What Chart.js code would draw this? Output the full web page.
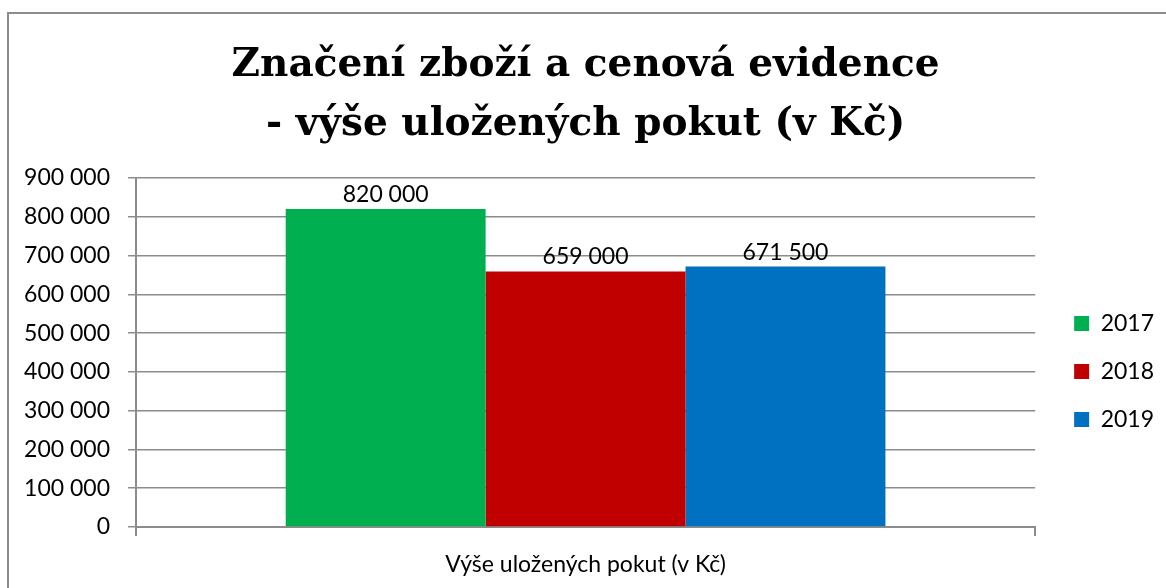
<!DOCTYPE html>
<html>
<head>
<meta charset="utf-8">
<script src="https://cdn.jsdelivr.net/npm/chart.js@4/dist/chart.umd.min.js"></script>
<style>
  html, body { margin: 0; padding: 0; background: #fff; }
</style>
</head>
<body>
<canvas id="myChart" width="1166" height="588"></canvas>
<script>
// DATA
const categories = ['Výše uložených pokut (v Kč)'];
const years = ['2017', '2018', '2019'];
const fines2017 = [820000];
const fines2018 = [659000];
const fines2019 = [671500];
const yTicks = [0, 100000, 200000, 300000, 400000, 500000, 600000, 700000, 800000, 900000];
const colors = ['#00B050', '#C00000', '#0070C0'];
const titleLines = ['Značení zboží a cenová evidence', '- výše uložených pokut (v Kč)'];

// 820000 -> "820 000"
function fmt(v) {
    return String(v).replace(/\B(?=(\d{3})+(?!\d))/g, ' ');
}

// frame round the chart (only top and left show in the picture)
const framePlugin = {
    id: 'frame',
    beforeDraw(chart) {
        const ctx = chart.ctx;
        ctx.save();
        ctx.strokeStyle = '#8c8c8c';
        ctx.lineWidth = 2;
        ctx.beginPath();
        ctx.moveTo(8, chart.height);
        ctx.lineTo(8, 13);
        ctx.lineTo(chart.width, 13);
        ctx.stroke();
        ctx.restore();
    }
};

// value labels above the bars
const valueLabels = {
    id: 'valueLabels',
    afterDatasetsDraw(chart) {
        const ctx = chart.ctx;
        ctx.save();
        ctx.font = "23px Lato, 'Open Sans', sans-serif";
        ctx.fillStyle = '#000';
        ctx.textAlign = 'center';
        ctx.textBaseline = 'alphabetic';
        chart.data.datasets.forEach((ds, i) => {
            chart.getDatasetMeta(i).data.forEach((bar, j) => {
                ctx.fillText(fmt(ds.data[j]), bar.x, bar.y - 7);
            });
        });
        ctx.restore();
    }
};

Chart.defaults.font.family = "Lato, 'Open Sans', sans-serif";
Chart.defaults.font.size = 23;
Chart.defaults.color = '#000';

const ctx = document.getElementById('myChart').getContext('2d');
const myChart = new Chart(ctx, {
    type: 'bar',
    data: {
        labels: categories,
        datasets: [
            { label: years[0], data: fines2017, backgroundColor: colors[0] },
            { label: years[1], data: fines2018, backgroundColor: colors[1] },
            { label: years[2], data: fines2019, backgroundColor: colors[2] }
        ]
    },
    options: {
        responsive: false,
        animation: false,
        categoryPercentage: 0.667,
        barPercentage: 1,
        layout: {
            padding: { left: 10, right: 2, top: 0, bottom: 10 }
        },
        plugins: {
            title: {
                display: true,
                fullSize: false,
                text: titleLines,
                color: '#000',
                font: { family: "'DejaVu Serif', serif", size: 39, weight: 'bold', lineHeight: 1.5 },
                padding: { top: 37, bottom: 24 }
            },
            legend: {
                position: 'right',
                fullSize: false,
                title: { display: true, text: '', font: { size: 10 }, padding: 13 },
                labels: {
                    boxWidth: 15,
                    boxHeight: 15,
                    padding: 25,
                    font: { size: 23 }
                }
            },
            tooltip: { enabled: false }
        },
        scales: {
            x: {
                afterFit(scale) {
                    scale.height = 51;
                },
                grid: {
                    drawOnChartArea: false,
                    drawTicks: true,
                    tickLength: 9,
                    color: '#8c8c8c',
                    lineWidth: 2
                },
                border: { color: '#8c8c8c', width: 2 },
                ticks: { padding: 15 }
            },
            y: {
                min: 0,
                max: 900000,
                afterBuildTicks(scale) {
                    scale.ticks = yTicks.map(v => ({ value: v }));
                },
                afterFit(scale) {
                    scale.width = 126;
                },
                grid: {
                    color: '#8c8c8c',
                    lineWidth: 1.5,
                    tickLength: 8
                },
                border: { color: '#8c8c8c', width: 2 },
                ticks: {
                    padding: 18,
                    callback: v => fmt(v)
                }
            },
            spacer: {
                type: 'linear',
                position: 'right',
                grid: { display: false },
                border: { display: false },
                ticks: { display: false },
                afterFit(scale) {
                    scale.width = 14;
                }
            }
        }
    },
    plugins: [framePlugin, valueLabels]
});
</script>
</body>
</html>
